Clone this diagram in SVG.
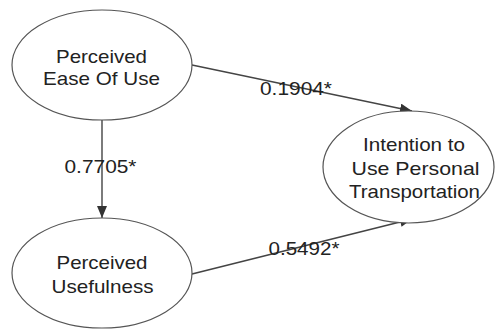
<svg xmlns="http://www.w3.org/2000/svg" width="495" height="329" viewBox="0 0 495 329">
<style>
.node ellipse{fill:#fff;stroke:#555;stroke-width:1.2}
text{font-family:"Liberation Sans",Arial,sans-serif;font-size:18.5px;fill:#222}
.c text{text-anchor:middle}
.edge line{stroke:#444;stroke-width:1.4}
</style>
<defs>
<marker id="ah" viewBox="0 0 12 10" refX="12" refY="5" markerWidth="12" markerHeight="10" markerUnits="userSpaceOnUse" orient="auto">
<path d="M0,0 L12,5 L0,10 Z" fill="#333"/>
</marker>
</defs>
<rect width="495" height="329" fill="#fff"/>
<g id="connectors" class="edge">
<line x1="102" y1="120" x2="102" y2="218" marker-end="url(#ah)"/>
<line x1="192" y1="65" x2="412" y2="111" marker-end="url(#ah)"/>
<line x1="192" y1="274" x2="412" y2="219" marker-end="url(#ah)"/>
</g>
<g id="peou" class="node c">
<ellipse cx="102" cy="65" rx="90" ry="55"/>
<text x="101.5" y="63" textLength="91" lengthAdjust="spacingAndGlyphs">Perceived</text>
<text x="101.5" y="85" textLength="117" lengthAdjust="spacingAndGlyphs">Ease Of Use</text>
</g>
<g id="pu" class="node c">
<ellipse cx="102" cy="273" rx="90" ry="55"/>
<text x="102" y="269" textLength="91" lengthAdjust="spacingAndGlyphs">Perceived</text>
<text x="102.5" y="293" textLength="102" lengthAdjust="spacingAndGlyphs">Usefulness</text>
</g>
<g id="itu" class="node c">
<ellipse cx="408.5" cy="167" rx="85.5" ry="56"/>
<text x="414" y="151" textLength="102" lengthAdjust="spacingAndGlyphs">Intention to</text>
<text x="415.5" y="175" textLength="128" lengthAdjust="spacingAndGlyphs">Use Personal</text>
<text x="414.5" y="198" textLength="131" lengthAdjust="spacingAndGlyphs">Transportation</text>
</g>
<g id="labels">
<text x="64.5" y="173" textLength="72" lengthAdjust="spacingAndGlyphs">0.7705*</text>
<text x="260" y="95" textLength="72" lengthAdjust="spacingAndGlyphs">0.1904*</text>
<text x="268.5" y="255" textLength="71" lengthAdjust="spacingAndGlyphs">0.5492*</text>
</g>
</svg>
